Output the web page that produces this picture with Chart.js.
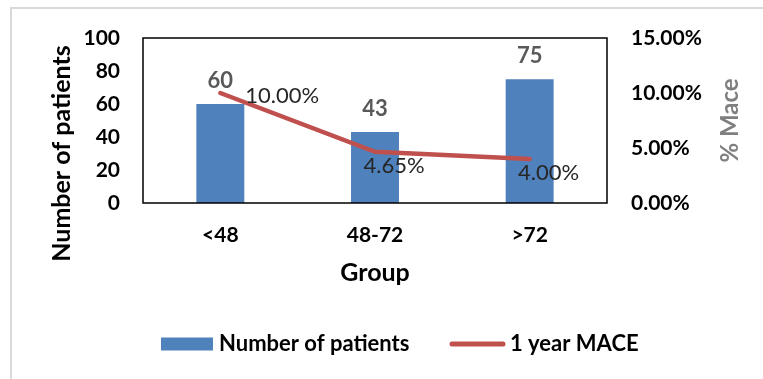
<!DOCTYPE html>
<html>
<head>
<meta charset="utf-8">
<script src="https://cdn.jsdelivr.net/npm/chart.js@4/dist/chart.umd.min.js"></script>
<style>
  html, body { margin: 0; padding: 0; background: #fff; overflow: hidden; }
  #wrap { position: relative; width: 763px; height: 379px; }
  #frame { position: absolute; left: 10px; top: 7px; width: 800px; height: 420px; border: 2px solid #d9d9d9; box-sizing: border-box; }
  #chart { position: absolute; left: 0; top: 0; }
</style>
</head>
<body>
<div id="wrap">
  <div id="frame"></div>
  <canvas id="chart" width="763" height="379"></canvas>
</div>
<script>
const groups = ["<48", "48-72", ">72"]
const patients = [60, 43, 75]
const mace = [10.00, 4.65, 4.00]
const leftTicks = [0, 20, 40, 60, 80, 100]
const rightTicks = [0, 5, 10, 15]

const FONT = "Lato, 'Liberation Sans', sans-serif"
const BLUE = "#4f81bd"
const RED = "#c0504d"

function fixedTicks(values) {
  return function(scale) {
    scale.ticks = values.map(v => ({ value: v }))
  }
}
function fixWidth(w) { return scale => { scale.width = w } }
function fixHeight(h) { return scale => { scale.height = h } }

const noGrid = { display: false, drawTicks: false }

// value labels, plot frame, both rotated axis titles and the legend
const extras = {
  id: "extras",
  afterDatasetsDraw(chart) {
    const ctx = chart.ctx
    const area = chart.chartArea
    const midY = (area.top + area.bottom) / 2

    ctx.save()
    ctx.strokeStyle = "#000"
    ctx.lineWidth = 1.5
    ctx.strokeRect(area.left, area.top, area.right - area.left, area.bottom - area.top)

    // bar values
    ctx.font = "bold 22px " + FONT
    ctx.fillStyle = "#595959"
    ctx.textAlign = "center"
    ctx.textBaseline = "middle"
    chart.getDatasetMeta(0).data.forEach((bar, i) => {
      ctx.fillText(patients[i], bar.x, bar.y - 23)
    })

    // line values
    ctx.font = "22px " + FONT
    ctx.fillStyle = "#262626"
    chart.getDatasetMeta(1).data.forEach((pt, i) => {
      const txt = mace[i].toFixed(2) + "%"
      if (i === 0) {
        ctx.textAlign = "left"
        ctx.fillText(txt, pt.x + 25, pt.y + 3)
      } else {
        ctx.textAlign = "center"
        ctx.fillText(txt, pt.x + 19, pt.y + 14)
      }
    })

    // left axis title, sits a little below the plot middle
    ctx.save()
    ctx.font = "bold 25px " + FONT
    ctx.fillStyle = "#000"
    ctx.textAlign = "center"
    ctx.translate(area.left - 81, midY + 33)
    ctx.rotate(-Math.PI / 2)
    ctx.fillText("Number of patients", 0, 0)
    ctx.restore()

    // right axis title, reading bottom to top
    ctx.save()
    ctx.font = "bold 24px " + FONT
    ctx.fillStyle = "#7f7f7f"
    ctx.textAlign = "center"
    ctx.translate(area.right + 123, midY)
    ctx.rotate(-Math.PI / 2)
    ctx.fillText("% Mace", 0, 0)
    ctx.restore()
    ctx.restore()

    // legend
    ctx.save()
    const ly = area.bottom + 141
    const lx = area.left + 18
    ctx.fillStyle = BLUE
    ctx.fillRect(lx, ly - 6.5, 52, 13)
    ctx.font = "bold 22px " + FONT
    ctx.fillStyle = "#000"
    ctx.textAlign = "left"
    ctx.textBaseline = "middle"
    ctx.fillText("Number of patients", lx + 58, ly)
    ctx.strokeStyle = RED
    ctx.lineWidth = 5
    ctx.lineCap = "round"
    ctx.beginPath()
    ctx.moveTo(lx + 291, ly)
    ctx.lineTo(lx + 342, ly)
    ctx.stroke()
    ctx.fillText("1 year MACE", lx + 349, ly)
    ctx.restore()
  }
}

new Chart(document.getElementById("chart"), {
  data: {
    labels: groups,
    datasets: [
      {
        type: "bar",
        label: "Number of patients",
        data: patients,
        backgroundColor: BLUE,
        yAxisID: "y",
        categoryPercentage: 1,
        barPercentage: 0.31,
        order: 2
      },
      {
        type: "line",
        label: "1 year MACE",
        data: mace,
        borderColor: RED,
        borderWidth: 4.5,
        borderCapStyle: "round",
        pointRadius: 0,
        tension: 0,
        yAxisID: "y1",
        order: 1
      }
    ]
  },
  plugins: [extras],
  options: {
    responsive: false,
    animation: false,
    layout: { padding: { top: 38, left: 44, right: 0, bottom: 91 } },
    plugins: {
      legend: { display: false },
      tooltip: { enabled: false }
    },
    scales: {
      x: {
        type: "category",
        offset: true,
        afterFit: fixHeight(85),
        grid: noGrid,
        border: { display: false },
        ticks: {
          maxRotation: 0,
          padding: 20,
          color: "#000",
          font: { family: FONT, size: 21, weight: "bold" }
        },
        title: {
          display: true,
          text: "Group",
          color: "#000",
          padding: { top: 0, bottom: 0 },
          font: { family: FONT, size: 25, weight: "bold" }
        }
      },
      y: {
        position: "left",
        min: 0,
        max: 100,
        afterBuildTicks: fixedTicks(leftTicks),
        afterFit: fixWidth(99),
        grid: noGrid,
        border: { display: false },
        ticks: {
          autoSkip: false,
          padding: 23,
          color: "#000",
          font: { family: FONT, size: 21, weight: "bold" }
        }
      },
      y1: {
        position: "right",
        min: 0,
        max: 15,
        afterBuildTicks: fixedTicks(rightTicks),
        afterFit: fixWidth(156),
        grid: noGrid,
        border: { display: false },
        ticks: {
          autoSkip: false,
          padding: 24,
          color: "#000",
          font: { family: FONT, size: 21, weight: "bold" },
          callback: v => v.toFixed(2) + "%"
        }
      }
    }
  }
})
</script>
</body>
</html>
